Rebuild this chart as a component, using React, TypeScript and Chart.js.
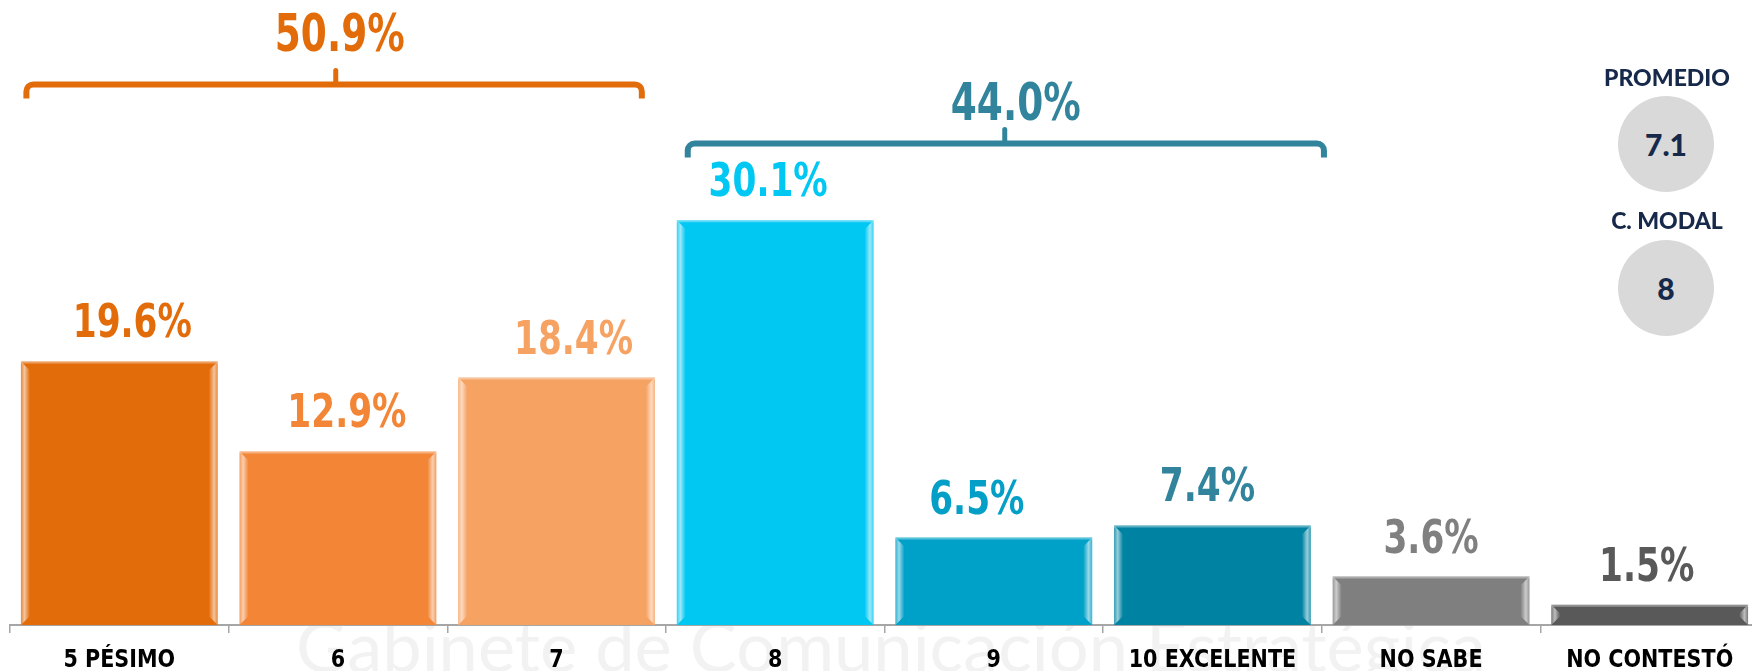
import React, { useEffect, useRef } from 'react';
import { Chart, registerables } from 'chart.js';

Chart.register(...registerables);

// ---- data ----
const CATEGORIES = ['5 PÉSIMO', '6', '7', '8', '9', '10 EXCELENTE', 'NO SABE', 'NO CONTESTÓ'];
const VALUES = [19.6, 12.9, 18.4, 30.1, 6.5, 7.4, 3.6, 1.5];
const BAR_COLORS = ['#E36C0A', '#F38536', '#F6A263', '#00C8F3', '#00A1C8', '#0083A2', '#7F7F7F', '#595959'];
const LABEL_COLORS = ['#E36C0A', '#F38536', '#F6A263', '#00C8F3', '#049FC6', '#31849B', '#808080', '#595959'];
// small horizontal nudges of the value labels (as placed in the original)
const LABEL_NUDGE = [13, 9, 17, -7, -17, -5, 0, -3];

const GROUP_LABELS = ['50.9%', '44.0%'];
const GROUP_FROM = [-0.425, 2.6];
const GROUP_TO = [2.39, 5.51];
const GROUP_MID = [0.99, 4.05];
const GROUP_LEVEL = [40.2, 35.8];
const GROUP_COLORS = ['#E36C0A', '#31849B'];

const SUMMARY_TITLES = ['PROMEDIO', 'C. MODAL'];
const SUMMARY_VALUES = ['7.1', '8'];

const WATERMARK = 'Gabinete de Comunicación Estratégica';

const COND = "'DejaVu Sans Condensed', 'DejaVu Sans', sans-serif";

function drawScaledText(ctx: any, text: string, x: number, y: number, sx: number) {
  ctx.save();
  ctx.translate(x, y);
  ctx.scale(sx, 1);
  ctx.fillText(text, 0, 0);
  ctx.restore();
}

const bevelPlugin = {
  id: 'bevel',
  afterDatasetsDraw(chart: any) {
    const ctx = chart.ctx;
    const meta = chart.getDatasetMeta(0);
    meta.data.forEach((el: any) => {
      const w = el.width;
      const l = el.x - w / 2;
      const r = el.x + w / 2;
      const t = el.y;
      const b = el.base;
      const h = b - t;
      if (h <= 0) return;
      const s = Math.min(9, h / 2);
      ctx.save();
      let g = ctx.createLinearGradient(l, 0, l + s, 0);
      g.addColorStop(0, 'rgba(255,255,255,0.2)');
      g.addColorStop(0.4, 'rgba(255,255,255,0.6)');
      g.addColorStop(1, 'rgba(255,255,255,0)');
      ctx.fillStyle = g;
      ctx.beginPath();
      ctx.moveTo(l, t);
      ctx.lineTo(l + s, t + s);
      ctx.lineTo(l + s, b - s);
      ctx.lineTo(l, b);
      ctx.closePath();
      ctx.fill();
      g = ctx.createLinearGradient(r - s, 0, r, 0);
      g.addColorStop(0, 'rgba(255,255,255,0)');
      g.addColorStop(0.6, 'rgba(255,255,255,0.6)');
      g.addColorStop(1, 'rgba(255,255,255,0.2)');
      ctx.fillStyle = g;
      ctx.beginPath();
      ctx.moveTo(r, t);
      ctx.lineTo(r - s, t + s);
      ctx.lineTo(r - s, b - s);
      ctx.lineTo(r, b);
      ctx.closePath();
      ctx.fill();
      ctx.strokeStyle = 'rgba(255,255,255,0.35)';
      ctx.lineWidth = 2;
      ctx.beginPath();
      ctx.moveTo(l, t + 1);
      ctx.lineTo(r, t + 1);
      ctx.stroke();
      ctx.restore();
    });
  },
};

const labelsPlugin = {
  id: 'valueLabels',
  afterDraw(chart: any) {
    const ctx = chart.ctx;
    const meta = chart.getDatasetMeta(0);
    const xs = chart.scales.x;
    const ys = chart.scales.y;
    ctx.save();
    ctx.textAlign = 'center';
    ctx.textBaseline = 'middle';

    // category labels under the axis
    ctx.fillStyle = '#000000';
    ctx.font = `bold 25px ${COND}`;
    CATEGORIES.forEach((c, i) => {
      drawScaledText(ctx, c, xs.getPixelForValue(i), xs.bottom + 27, 0.92);
    });

    // value labels
    ctx.font = `bold 46px ${COND}`;
    meta.data.forEach((el: any, i: number) => {
      ctx.fillStyle = LABEL_COLORS[i];
      drawScaledText(ctx, VALUES[i].toFixed(1) + '%', el.x + LABEL_NUDGE[i], el.y - 36, 0.83);
    });

    // group brackets
    GROUP_LABELS.forEach((lab, i) => {
      const x1 = xs.getPixelForValue(GROUP_FROM[i]);
      const x2 = xs.getPixelForValue(GROUP_TO[i]);
      const xm = xs.getPixelForValue(GROUP_MID[i]);
      const y = ys.getPixelForValue(GROUP_LEVEL[i]);
      const rr = 7;
      const drop = 14;
      ctx.strokeStyle = GROUP_COLORS[i];
      ctx.lineWidth = 6;
      ctx.lineCap = 'butt';
      ctx.lineJoin = 'round';
      ctx.beginPath();
      ctx.moveTo(x1, y + drop);
      ctx.arcTo(x1, y, x1 + rr, y, rr);
      ctx.lineTo(x2 - rr, y);
      ctx.arcTo(x2, y, x2, y + rr, rr);
      ctx.lineTo(x2, y + drop);
      ctx.stroke();
      ctx.lineCap = 'round';
      ctx.lineWidth = 5;
      ctx.beginPath();
      ctx.moveTo(xm, y);
      ctx.lineTo(xm, y - 14);
      ctx.stroke();
      ctx.fillStyle = GROUP_COLORS[i];
      ctx.font = `bold 52px ${COND}`;
      drawScaledText(ctx, lab, xm + (i === 0 ? 4 : 11), y - (i === 0 ? 47 : 37), 0.8);
    });
    ctx.restore();
  },
};

const watermarkPlugin = {
  id: 'watermark',
  beforeDraw(chart: any) {
    const ctx = chart.ctx;
    ctx.save();
    ctx.fillStyle = '#F2F2F2';
    ctx.font = '70px Lato, sans-serif';
    ctx.textAlign = 'left';
    ctx.textBaseline = 'alphabetic';
    const w = ctx.measureText(WATERMARK).width;
    ctx.translate(296, 672);
    ctx.scale(1190 / w, 1);
    ctx.fillText(WATERMARK, 0, 0);
    ctx.restore();
  },
};

export default function App() {
  const ref = useRef<HTMLCanvasElement>(null);

  useEffect(() => {
    if (!ref.current) return;
    const chart = new Chart(ref.current, {
      type: 'bar',
      data: {
        labels: CATEGORIES,
        datasets: [
          {
            data: VALUES,
            backgroundColor: BAR_COLORS,
            borderWidth: 0,
            barPercentage: 0.9,
            categoryPercentage: 1.0,
          },
        ],
      },
      options: {
        animation: false,
        responsive: false,
        maintainAspectRatio: false,
        layout: { padding: { top: 40, left: 10, right: 3, bottom: 38 } },
        plugins: { legend: { display: false }, tooltip: { enabled: false } },
        scales: {
          x: {
            grid: {
              display: true,
              drawOnChartArea: false,
              drawTicks: true,
              tickLength: 8,
              color: '#A6A6A6',
              lineWidth: 1.5,
              offset: true,
            },
            border: { display: true, color: '#A6A6A6', width: 2 },
            ticks: { display: false },
          },
          y: { display: false, min: 0, max: 43.5 },
        },
      },
      plugins: [watermarkPlugin, bevelPlugin, labelsPlugin],
    } as any);
    return () => chart.destroy();
  }, []);

  const titleStyle: React.CSSProperties = {
    position: 'absolute',
    left: 1567,
    width: 200,
    textAlign: 'center',
    fontFamily: 'Lato, sans-serif',
    fontWeight: 900,
    fontSize: 23,
    color: '#17294A',
    lineHeight: '24px',
  };
  const circleStyle: React.CSSProperties = {
    position: 'absolute',
    left: 1618,
    width: 96,
    height: 96,
    borderRadius: '50%',
    background: '#D9D9D9',
    display: 'flex',
    alignItems: 'center',
    justifyContent: 'center',
    fontFamily: 'Lato, sans-serif',
    fontWeight: 900,
    fontSize: 30,
    color: '#17294A',
  };

  return (
    <div
      style={{
        position: 'absolute',
        left: 0,
        top: 0,
        width: 1752,
        height: 671,
        overflow: 'hidden',
        background: '#FFFFFF',
      }}
    >
      <canvas ref={ref} width={1762} height={671} style={{ position: 'absolute', left: 0, top: 0 }} />
      <div style={{ ...titleStyle, top: 65 }}>{SUMMARY_TITLES[0]}</div>
      <div style={{ ...circleStyle, top: 96 }}>{SUMMARY_VALUES[0]}</div>
      <div style={{ ...titleStyle, top: 208 }}>{SUMMARY_TITLES[1]}</div>
      <div style={{ ...circleStyle, top: 240 }}>{SUMMARY_VALUES[1]}</div>
    </div>
  );
}
